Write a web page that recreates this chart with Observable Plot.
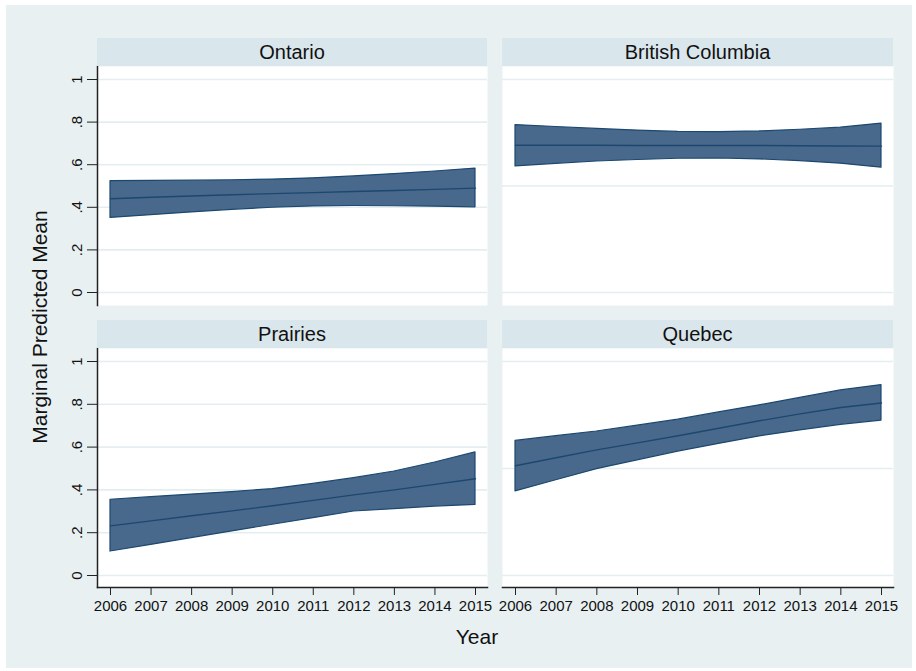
<!DOCTYPE html>
<html>
<head>
<meta charset="utf-8">
<script src="https://cdn.jsdelivr.net/npm/d3@7"></script>
<script src="https://cdn.jsdelivr.net/npm/@observablehq/plot@0.6"></script>
<style>
  html, body { margin: 0; padding: 0; background: #ffffff; }
  #root { position: relative; width: 916px; height: 671px; background: #ffffff; font-family: "Liberation Sans", Arial, sans-serif; overflow: hidden; }
  #bg { position: absolute; left: 6px; top: 5px; width: 906px; height: 663px; background: #e8f0f2; }
  .strip { position: absolute; height: 28px; background: #d9e6ec; color: #111; font-size: 20px; line-height: 28px; text-align: center; }
  .panel { position: absolute; }
  .panel svg { background: transparent !important; overflow: visible; }
  #ytitle { position: absolute; left: 40px; top: 327px; transform: translate(-50%, -50%) rotate(-90deg); font-size: 21px; color: #111; white-space: nowrap; }
  #xtitle { position: absolute; left: 477px; top: 637px; transform: translate(-50%, -50%); font-size: 21px; color: #111; white-space: nowrap; }
</style>
</head>
<body>
<div id="root">
  <div id="bg"></div>
</div>
<script>
// ---- data ----
const years = [2006, 2007, 2008, 2009, 2010, 2011, 2012, 2013, 2014, 2015];
const regions = ["Ontario", "British Columbia", "Prairies", "Quebec"];

const ontarioMean = [0.440, 0.447, 0.453, 0.459, 0.464, 0.469, 0.474, 0.479, 0.484, 0.490];
const ontarioLow  = [0.350, 0.363, 0.376, 0.388, 0.398, 0.404, 0.406, 0.405, 0.403, 0.400];
const ontarioHigh = [0.523, 0.524, 0.525, 0.527, 0.530, 0.536, 0.545, 0.556, 0.568, 0.582];

const bcMean = [0.691, 0.691, 0.691, 0.690, 0.690, 0.690, 0.690, 0.689, 0.688, 0.687];
const bcLow  = [0.592, 0.604, 0.615, 0.622, 0.628, 0.629, 0.625, 0.617, 0.605, 0.586];
const bcHigh = [0.786, 0.777, 0.768, 0.760, 0.754, 0.753, 0.756, 0.764, 0.774, 0.793];

const prairiesMean = [0.232, 0.255, 0.279, 0.302, 0.326, 0.351, 0.377, 0.400, 0.426, 0.452];
const prairiesLow  = [0.112, 0.143, 0.175, 0.206, 0.237, 0.268, 0.299, 0.310, 0.322, 0.330];
const prairiesHigh = [0.354, 0.366, 0.378, 0.390, 0.404, 0.428, 0.455, 0.486, 0.528, 0.575];

const quebecMean = [0.513, 0.550, 0.587, 0.620, 0.653, 0.688, 0.723, 0.755, 0.785, 0.806];
const quebecLow  = [0.393, 0.445, 0.497, 0.538, 0.579, 0.615, 0.650, 0.678, 0.704, 0.724];
const quebecHigh = [0.629, 0.651, 0.673, 0.700, 0.728, 0.762, 0.795, 0.830, 0.865, 0.890];

const leftYTicks = [0, 0.2, 0.4, 0.6, 0.8, 1];
const rightYGrid = [0, 0.5, 1];
const yTickLabels = ["0", ".2", ".4", ".6", ".8", "1"];

const yTitle = "Marginal Predicted Mean";
const xTitle = "Year";

// ---- build ----
const series = {
  "Ontario": [ontarioMean, ontarioLow, ontarioHigh],
  "British Columbia": [bcMean, bcLow, bcHigh],
  "Prairies": [prairiesMean, prairiesLow, prairiesHigh],
  "Quebec": [quebecMean, quebecLow, quebecHigh]
};
function rows(name) {
  const [m, lo, hi] = series[name];
  return years.map((yr, i) => ({year: yr, mean: m[i], lo: lo[i], hi: hi[i]}));
}

const FILL = "#48698b";
const EDGE = "#1c4870";
const AXIS = "#222222";
const GRID = "#e4eef1";
const FONT = "Liberation Sans, Arial, sans-serif";

const layout = {
  "Ontario":          {left: 0,   top: 66,  width: 487, ml: 97, bottom: false, yaxis: true,  grid: leftYTicks, stripLeft: 97,  stripTop: 38,  stripW: 390},
  "British Columbia": {left: 502, top: 66,  width: 391, ml: 0,  bottom: false, yaxis: false, grid: rightYGrid, stripLeft: 502, stripTop: 38,  stripW: 391},
  "Prairies":         {left: 0,   top: 348, width: 487, ml: 97, bottom: true,  yaxis: true,  grid: leftYTicks, stripLeft: 97,  stripTop: 320, stripW: 390},
  "Quebec":           {left: 502, top: 348, width: 391, ml: 0,  bottom: true,  yaxis: false, grid: rightYGrid, stripLeft: 502, stripTop: 320, stripW: 391}
};

const root = document.getElementById("root");

for (const name of regions) {
  const L = layout[name];
  const data = rows(name);
  const marks = [
    Plot.frame({fill: "white", stroke: null}),
    Plot.gridY(L.grid, {stroke: GRID, strokeOpacity: 1, strokeWidth: 1.6}),
    Plot.areaY(data, {x: "year", y1: "lo", y2: "hi", fill: FILL, stroke: EDGE, strokeWidth: 1.2}),
    Plot.lineY(data, {x: "year", y: "mean", stroke: EDGE, strokeWidth: 1.4})
  ];
  if (L.yaxis) {
    marks.push(Plot.frame({anchor: "left", stroke: AXIS, strokeWidth: 1.5}));
    marks.push(Plot.axisY(leftYTicks, {
      anchor: "left", tickSize: 10, tickPadding: 6, tickRotate: -90,
      tickFormat: (d, i) => yTickLabels[leftYTicks.indexOf(d)],
      fontSize: 15, stroke: AXIS, fill: "#111", label: null
    }));
  } else {
    marks.push(Plot.axisY({ticks: [], label: null}));
  }
  if (L.bottom) {
    marks.push(Plot.frame({anchor: "bottom", stroke: AXIS, strokeWidth: 1.5}));
    marks.push(Plot.axisX(years, {
      anchor: "bottom", tickSize: 8, tickPadding: 5, tickFormat: d => String(d),
      fontSize: 15, stroke: AXIS, fill: "#111", label: null
    }));
  } else {
    marks.push(Plot.axisX({ticks: [], label: null}));
  }
  const h = 239 + (L.bottom ? 40 : 0);
  const svg = Plot.plot({
    width: L.width,
    height: h,
    marginLeft: L.ml,
    marginRight: 0,
    marginTop: 0,
    marginBottom: L.bottom ? 40 : 0,
    style: {background: "transparent", fontFamily: FONT, overflow: "visible"},
    x: {domain: [2006, 2015], insetLeft: 13, insetRight: 12},
    y: {domain: [0, 1], insetTop: 13, insetBottom: L.bottom ? 12 : 13},
    marks
  });
  const wrap = document.createElement("div");
  wrap.className = "panel";
  wrap.style.left = L.left + "px";
  wrap.style.top = L.top + "px";
  wrap.appendChild(svg);
  root.appendChild(wrap);

  const strip = document.createElement("div");
  strip.className = "strip";
  strip.style.left = L.stripLeft + "px";
  strip.style.top = L.stripTop + "px";
  strip.style.width = L.stripW + "px";
  strip.textContent = name;
  root.appendChild(strip);
}

const yt = document.createElement("div");
yt.id = "ytitle"; yt.textContent = yTitle; root.appendChild(yt);
const xt = document.createElement("div");
xt.id = "xtitle"; xt.textContent = xTitle; root.appendChild(xt);
</script>
</body>
</html>
